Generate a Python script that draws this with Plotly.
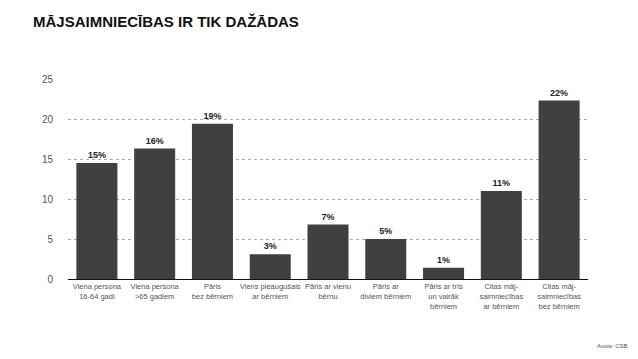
import plotly.graph_objects as go

categories = [
    "Viena persona<br>16-64 gadi",
    "Viena persona<br>>65 gadiem",
    "Pāris<br>bez bērniem",
    "Viens pieaugušais<br>ar bērniem",
    "Pāris ar vienu<br>bērnu",
    "Pāris ar<br>diviem bērniem",
    "Pāris ar trīs<br>un vairāk<br>bērniem",
    "Citas māj-<br>saimniecības<br>ar bērniem",
    "Citas māj-<br>saimniecības<br>bez bērniem",
]
values = [14.5, 16.3, 19.4, 3.1, 6.8, 5.0, 1.4, 11.0, 22.3]
value_labels = ["15%", "16%", "19%", "3%", "7%", "5%", "1%", "11%", "22%"]
y_ticks = [0, 5, 10, 15, 20, 25]

fig = go.Figure(go.Bar(
    x=list(range(len(categories))),
    y=values,
    text=value_labels,
    textposition="outside",
    cliponaxis=False,
    textfont=dict(family="Liberation Sans, Arial", size=9, color="#222222", weight="bold"),
    marker=dict(color="#404040", line=dict(width=0)),
))

fig.update_layout(
    width=630, height=351,
    margin=dict(l=60, r=50, t=71, b=80, autoexpand=False),
    plot_bgcolor="white", paper_bgcolor="white",
    bargap=0.29,
    showlegend=False,
    font=dict(family="Liberation Sans, Arial", color="#555555"),
    title=dict(text="<b>MĀJSAIMNIECĪBAS IR TIK DAŽĀDAS</b>",
               x=25/630, xanchor="left", y=1-14/351, yanchor="middle",
               pad=dict(l=0, r=0, t=0, b=0),
               font=dict(size=15, color="#111111", family="Liberation Sans, Arial")),
)
fig.update_xaxes(
    tickmode="array", tickvals=list(range(len(categories))), ticktext=categories,
    range=[-0.5, 8.5], showgrid=False, showline=True, linecolor="#111111", linewidth=1,
    ticks="", tickangle=0, automargin=False, tickfont=dict(size=7.5, color="#555555"),
)
fig.update_yaxes(
    range=[0, 25], tickvals=y_ticks, showgrid=True, gridcolor="#aaaaaa",
    griddash="dot", gridwidth=0.7, zeroline=False, ticks="", automargin=False,
    tickfont=dict(size=10, color="#555555"), ticklabelstandoff=14,
)
fig.add_annotation(text="Avots: CSB", x=(622-60)/520, y=(271-338)/200, xref="paper", yref="paper",
                   xanchor="right", yanchor="middle", showarrow=False,
                   font=dict(size=6, color="#555555"))
fig.write_html("out.html")
